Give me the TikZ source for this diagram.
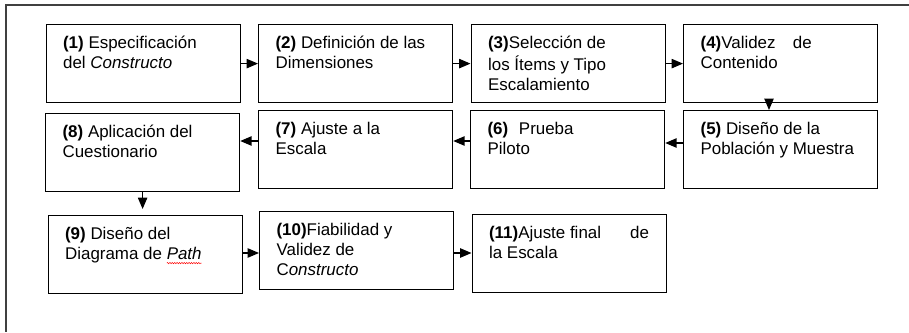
\documentclass[tikz,border=0pt]{standalone}
\usepackage{fontspec}
\setmainfont{Liberation Sans}
\usetikzlibrary{arrows.meta,decorations.pathmorphing}

\newcommand{\stagetext}[1]{\parbox[t][43.5pt][t]{120pt}{\raggedright\strut#1}}
\newlength{\spellwd}
\newcommand{\spellwave}[1]{\settowidth{\spellwd}{#1}\rlap{\tikz[overlay,baseline=0pt]\draw[red,line width=0.35pt,decorate,decoration={snake,amplitude=0.5pt,segment length=1.8pt}] (0pt,-2.6pt) -- (\spellwd,-2.6pt);}#1}

\begin{document}
\begin{tikzpicture}[x=0.75pt,y=-0.75pt,
	stage/.style={draw,line width=0.9pt,anchor=north west,inner xsep=12.75pt,inner ysep=7.5pt,font=\fontsize{12.7}{15}\selectfont},
	flow/.style={-{Triangle[length=8.5pt,width=7pt]},line width=0.9pt}]
	\useasboundingbox (0,0) rectangle (909,332);
	\draw[line width=1.1pt,black!75] (909,5) -- (6,5) -- (6,332);

	% first row
	\node[stage] (b1) at (45.5,24) {\stagetext{\textbf{(1)} Especificación\\del \textit{Constructo}}};
	\node[stage] (b2) at (258,24) {\stagetext{\textbf{(2)} Definición de las\\Dimensiones}};
	\node[stage] (b3) at (470.5,24) {\stagetext{\textbf{(3)}Selección de\\los Ítems y Tipo\\Escalamiento}};
	\node[stage] (b4) at (683,24) {\stagetext{\textbf{(4)}Validez\hspace{13pt}de\\Contenido}};

	% second row
	\node[stage] (b5) at (683,110) {\stagetext{\textbf{(5)} Diseño de la\\Población y Muestra}};
	\node[stage] (b6) at (470,110) {\stagetext{\textbf{(6)}\hspace{8pt}Prueba\\Piloto}};
	\node[stage] (b7) at (258,110) {\stagetext{\textbf{(7)} Ajuste a la\\Escala}};
	\node[stage] (b8) at (45,113) {\stagetext{\textbf{(8)} Aplicación del\\Cuestionario}};

	% third row
	\node[stage] (b9) at (47.5,215) {\stagetext{\textbf{(9)} Diseño del\\Diagrama de \spellwave{\textit{Path}}}};
	\node[stage] (b10) at (259,211) {\stagetext{\textbf{(10)}Fiabilidad y\\Validez de\\C\textit{onstructo}}};
	\node[stage] (b11) at (471.5,214) {\stagetext{\textbf{(11)}Ajuste final \hfill de\\la Escala}};

	\draw[flow] (b1) -- (b2);
	\draw[flow] (b2) -- (b3);
	\draw[flow] (b3) -- (b4);
	\draw[flow] (b4.south -| 769,0) -- (b5.north -| 769,0);
	\draw[flow] (b5.west |- 0,143) -- (b6.east |- 0,143);
	\draw[flow] (b6.west |- 0,141) -- (b7.east |- 0,141);
	\draw[flow] (b7.west |- 0,141) -- (b8.east |- 0,141);
	\draw[flow,shorten >=4.5pt] (b8.south) -- (b9.north -| b8.south);
	\draw[flow] (b9.east |- 0,253) -- (b10.west |- 0,253);
	\draw[flow] (b10.east |- 0,253) -- (b11.west |- 0,253);
\end{tikzpicture}
\end{document}
